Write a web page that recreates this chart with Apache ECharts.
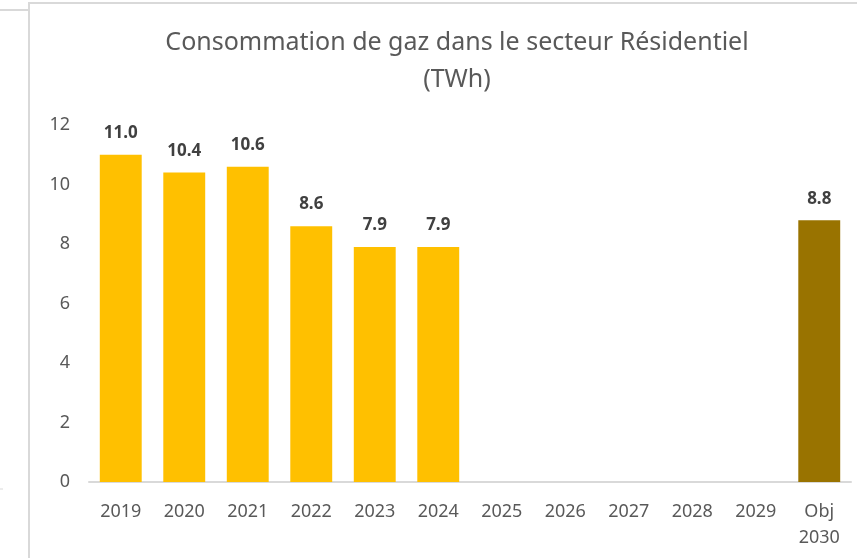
<!DOCTYPE html>
<html>
<head>
<meta charset="utf-8">
<script src="https://cdn.jsdelivr.net/npm/echarts@6/dist/echarts.min.js"></script>
<style>
  html, body { margin: 0; padding: 0; background: #fff; }
  #chart { width: 857px; height: 558px; }
</style>
</head>
<body>
<div id="chart"></div>
<script>
// catégories (années + objectif)
const categories = ['2019', '2020', '2021', '2022', '2023', '2024', '2025', '2026', '2027', '2028', '2029', 'Obj\n2030']
// consommation en TWh (vide pour 2025-2029)
const consumption = [11.0, 10.4, 10.6, 8.6, 7.9, 7.9, null, null, null, null, null, 8.8]
const yTicks = { min: 0, max: 12, interval: 2 }

const objIndex = categories.length - 1

const chart = echarts.init(document.getElementById('chart'), undefined, { renderer: 'canvas' })

const option = {
  animation: false,
  title: {
    text: 'Consommation de gaz dans le secteur Résidentiel\n(TWh)',
    left: 452,
    textAlign: 'center',
    top: 19,
    textStyle: {
      fontFamily: 'Noto Sans',
      fontWeight: 'normal',
      fontSize: 25,
      color: '#595959',
      lineHeight: 37
    }
  },
  graphic: [
    { type: 'rect', shape: { x: 29, y: 3, width: 840, height: 570 }, style: { fill: 'none', stroke: '#d9d9d9', lineWidth: 2 }, z: -1 },
    { type: 'line', shape: { x1: 0, y1: 10, x2: 29, y2: 10 }, style: { stroke: '#d9d9d9', lineWidth: 2 } },
    { type: 'line', shape: { x1: 0, y1: 489, x2: 3, y2: 489 }, style: { stroke: '#d9d9d9', lineWidth: 1 } }
  ],
  grid: { left: 89, right: 6, top: 125, bottom: 76 },
  xAxis: {
    type: 'category',
    data: categories,
    axisTick: { show: false },
    axisLine: { lineStyle: { color: '#d9d9d9', width: 2 } },
    axisLabel: {
      color: '#595959',
      fontFamily: 'Noto Sans',
      fontSize: 18,
      margin: 17,
      lineHeight: 26,
      interval: 0
    }
  },
  yAxis: {
    type: 'value',
    min: yTicks.min,
    max: yTicks.max,
    interval: yTicks.interval,
    splitLine: { show: false },
    axisLine: { show: false },
    axisTick: { show: false },
    axisLabel: {
      color: '#595959',
      fontFamily: 'Noto Sans',
      fontSize: 18,
      margin: 19
    }
  },
  series: [
    {
      type: 'bar',
      data: consumption,
      barWidth: '66%',
      itemStyle: {
        color: p => p.dataIndex === objIndex ? '#997300' : '#FFC000'
      },
      label: {
        show: true,
        position: 'top',
        distance: 13,
        formatter: p => p.value == null ? '' : p.value.toFixed(1),
        fontFamily: 'Noto Sans',
        fontWeight: 'bold',
        fontSize: 17,
        color: '#404040'
      }
    }
  ]
}

chart.setOption(option)
</script>
</body>
</html>
